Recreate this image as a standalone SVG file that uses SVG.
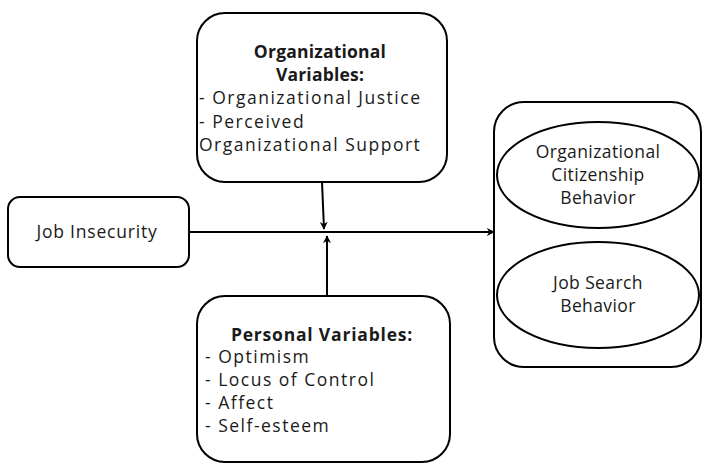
<svg xmlns="http://www.w3.org/2000/svg" width="703" height="464" viewBox="0 0 703 464">
  <style>
    .box { fill: #fff; stroke: #000; stroke-width: 2; }
    .t { font-family: "Open Sans", "Liberation Sans", sans-serif; font-size: 17.5px; fill: #1a1a1a; }
    .b { font-weight: bold; }
    .c { text-anchor: middle; }
    .ls { letter-spacing: 1.5px; }
    .lm { letter-spacing: 0.8px; }
    .lsm { letter-spacing: 0.4px; }
    .line { stroke: #000; stroke-width: 2; fill: none; marker-end: url(#arrow); }
  </style>
  <defs>
    <marker id="arrow" viewBox="0 0 10 10" refX="9" refY="5" markerWidth="8" markerHeight="8" markerUnits="userSpaceOnUse" orient="auto">
      <path d="M0,0 L10,5 L0,10 L3,5 Z" fill="#000"/>
    </marker>
  </defs>

  <rect width="703" height="464" fill="#fff"/>

  <g id="connectors">
    <line class="line" x1="189" y1="232" x2="494" y2="232"/>
    <line class="line" x1="322" y1="182" x2="324" y2="229"/>
    <line class="line" x1="327" y1="296" x2="327" y2="236"/>
  </g>

  <g id="org-variables">
    <rect class="box" x="197" y="13" width="250" height="169" rx="28"/>
    <text class="t b c" x="320" y="58" letter-spacing="0.2">Organizational</text>
    <text class="t b c" x="320" y="81" letter-spacing="0.2">Variables:</text>
    <text class="t ls" x="199" y="104">- Organizational Justice</text>
    <text class="t ls" x="199" y="128">- Perceived</text>
    <text class="t ls" x="199" y="151">Organizational Support</text>
  </g>

  <g id="job-insecurity">
    <rect class="box" x="8" y="197" width="181" height="70" rx="12"/>
    <text class="t c lm" x="97" y="238">Job Insecurity</text>
  </g>

  <g id="personal-variables">
    <rect class="box" x="197" y="296" width="253" height="166" rx="28"/>
    <text class="t b c lm" x="322" y="341">Personal Variables:</text>
    <text class="t ls" x="205" y="363">- Optimism</text>
    <text class="t ls" x="205" y="386">- Locus of Control</text>
    <text class="t ls" x="205" y="409">- Affect</text>
    <text class="t ls" x="205" y="432">- Self-esteem</text>
  </g>

  <g id="outcomes">
    <rect class="box" x="494" y="102" width="207" height="265" rx="30"/>
    <g id="ocb">
      <ellipse class="box" cx="598" cy="175" rx="101" ry="53"/>
      <text class="t c lsm" x="598" y="158">Organizational</text>
      <text class="t c lsm" x="598" y="181">Citizenship</text>
      <text class="t c lsm" x="598" y="204">Behavior</text>
    </g>
    <g id="job-search">
      <ellipse class="box" cx="598" cy="295" rx="101" ry="53"/>
      <text class="t c lsm" x="598" y="289">Job Search</text>
      <text class="t c lsm" x="598" y="312">Behavior</text>
    </g>
  </g>
</svg>
